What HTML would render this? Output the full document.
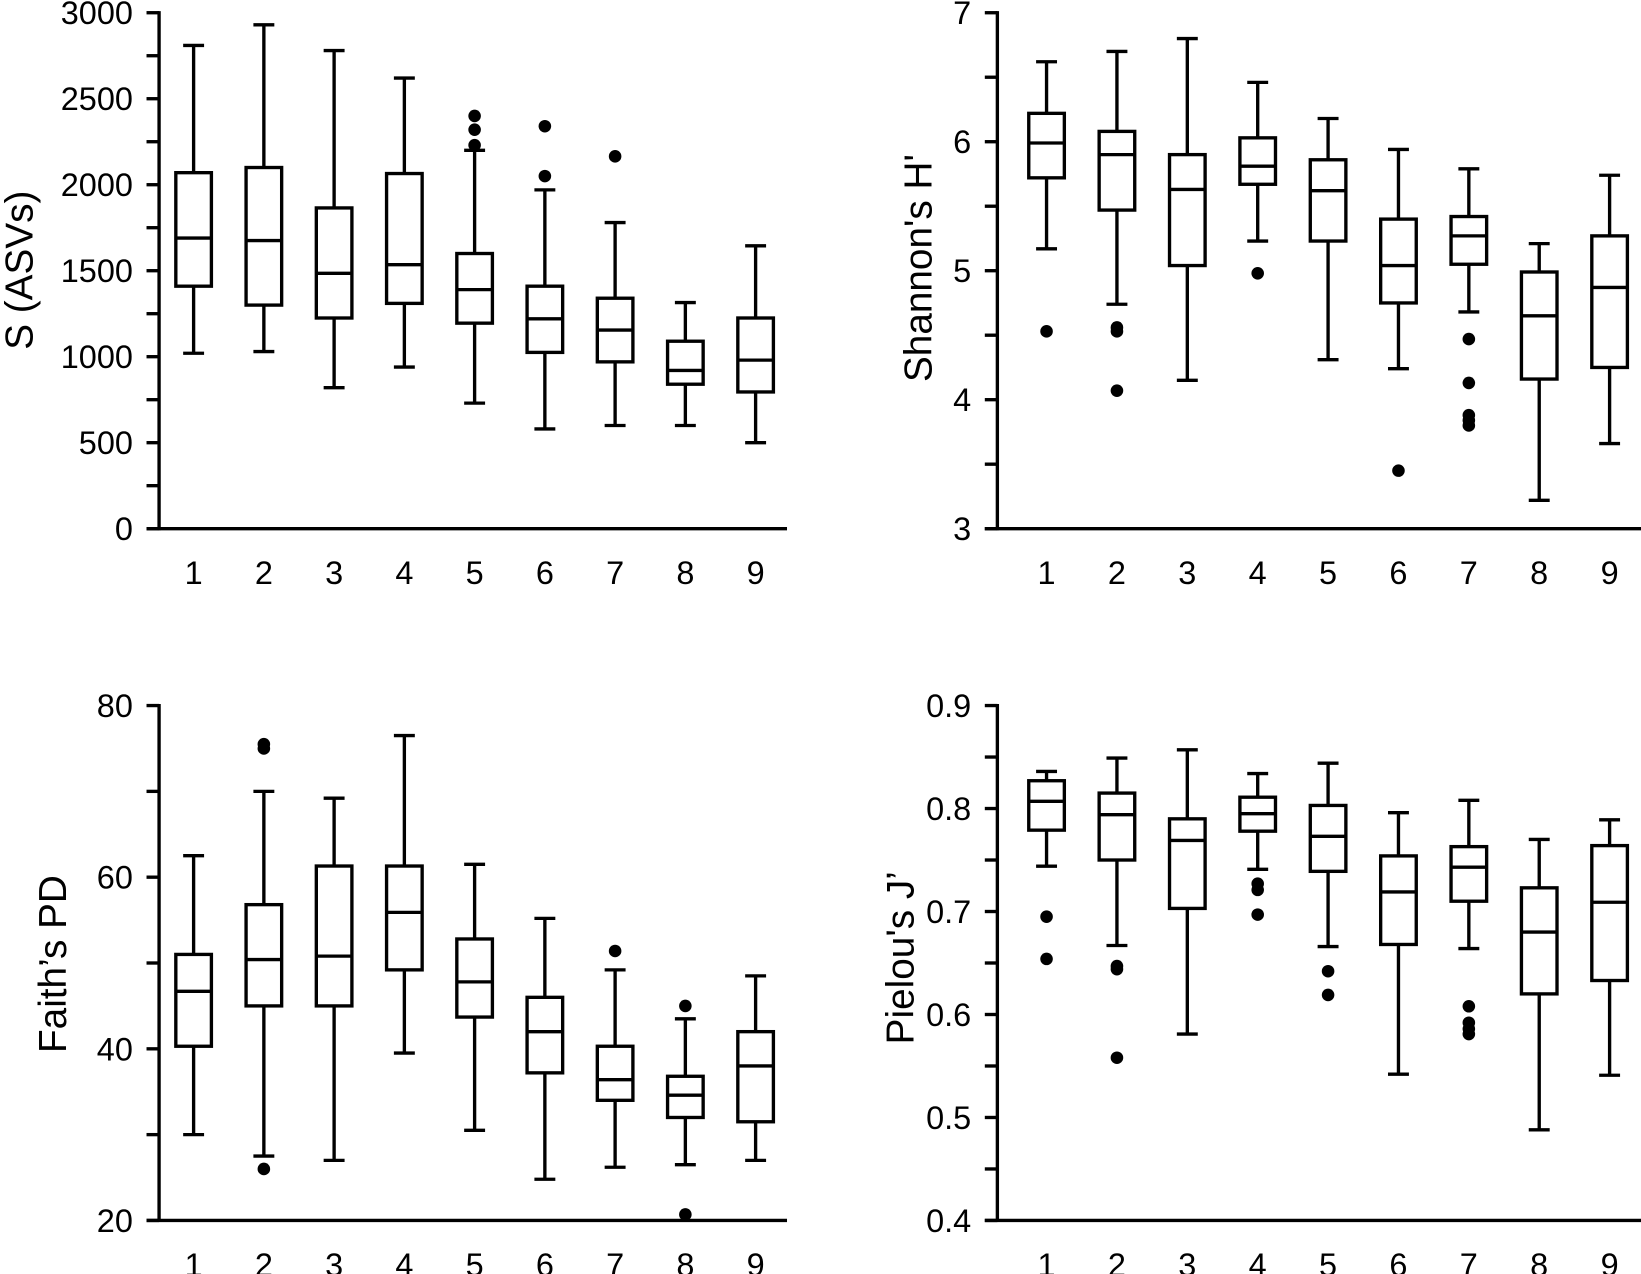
<!DOCTYPE html>
<html><head><meta charset="utf-8">
<style>
html,body{margin:0;padding:0;background:#fff;}
svg{display:block;}
text{font-family:"Liberation Sans",Arial,sans-serif;fill:#000;}
</style></head>
<body>
<svg id="chart" width="1641" height="1274" viewBox="0 0 1568 1217" xmlns="http://www.w3.org/2000/svg"></svg>
<script>
const categories = ["1","2","3","4","5","6","7","8","9"];

const richnessStats = [
 [1020,1410,1690,2070,2810],[1030,1300,1675,2100,2930],[820,1225,1485,1865,2780],
 [940,1310,1535,2065,2620],[730,1195,1390,1600,2200],[580,1025,1220,1410,1970],
 [600,970,1155,1340,1780],[600,840,920,1090,1315],[500,795,980,1225,1645]];
const richnessOutliers = [[],[],[],[],[2230,2320,2400],[2050,2340],[2165],[],[]];
const richnessTicks = [0,500,1000,1500,2000,2500,3000];

const shannonStats = [
 [5.17,5.72,5.99,6.22,6.62],[4.74,5.47,5.90,6.08,6.70],[4.15,5.04,5.63,5.90,6.80],
 [5.23,5.67,5.81,6.03,6.46],[4.31,5.23,5.62,5.86,6.18],[4.24,4.75,5.04,5.40,5.94],
 [4.68,5.05,5.27,5.42,5.79],[3.22,4.16,4.65,4.99,5.21],[3.66,4.25,4.87,5.27,5.74]];
const shannonOutliers = [[4.53],[4.56,4.53,4.07],[],[4.98],[],[3.45],[4.47,4.13,3.88,3.84,3.80],[],[]];
const shannonTicks = [3,4,5,6,7];

const faithStats = [
 [30,40.3,46.7,51,62.5],[27.5,45,50.4,56.8,70],[27,45,50.8,61.3,69.2],
 [39.5,49.2,55.9,61.3,76.5],[30.5,43.7,47.8,52.8,61.5],[24.8,37.2,42,46,55.2],
 [26.2,34,36.4,40.3,49.2],[26.5,32,34.6,36.8,43.5],[27,31.5,38,42,48.5]];
const faithOutliers = [[],[75.5,75,26],[],[],[],[],[51.4],[45,20.7],[]];
const faithTicks = [20,40,60,80];

const pielouStats = [
 [0.744,0.779,0.807,0.827,0.836],[0.667,0.750,0.794,0.815,0.849],[0.581,0.703,0.769,0.790,0.857],
 [0.741,0.778,0.795,0.811,0.834],[0.666,0.739,0.773,0.803,0.844],[0.542,0.668,0.719,0.754,0.796],
 [0.664,0.710,0.743,0.763,0.808],[0.488,0.620,0.680,0.723,0.770],[0.541,0.633,0.709,0.764,0.789]];
const pielouOutliers = [[0.695,0.654],[0.647,0.644,0.558],[],[0.727,0.721,0.697],[0.642,0.619],[],[0.608,0.592,0.586,0.581],[],[]];
const pielouTicks = ["0.4","0.5","0.6","0.7","0.8","0.9"];

const NS="http://www.w3.org/2000/svg";
const svg=document.getElementById('chart');
function mk(tag,attrs,parent){const e=document.createElementNS(NS,tag);for(const k in attrs)e.setAttribute(k,attrs[k]);(parent||svg).appendChild(e);return e;}

function panel(cfg){
  const g=mk('g',{});
  
  
  const ticks=cfg.ticks.map(Number);
  const ymin=ticks[0], ymax=ticks[ticks.length-1];
  const y=v=>cfg.y0+(v-ymin)/(ymax-ymin)*(cfg.y1-cfg.y0);
  const x=i=>cfg.xFirst+i*(cfg.xLast-cfg.xFirst)/(categories.length-1);
  const sw=3.2;
  const ya=mk('line',{x1:cfg.ax,y1:cfg.y1-1.5,x2:cfg.ax,y2:cfg.y0+1.5,stroke:'#000','stroke-width':sw},g);
  
  
  const xa=mk('line',{x1:cfg.ax-12,y1:cfg.y0,x2:cfg.axEnd,y2:cfg.y0,stroke:'#000','stroke-width':sw},g);
  
  
  for(let k=0;k<ticks.length;k++){
    const v=ticks[k];
    const t=mk('line',{x1:cfg.ax-12,y1:y(v),x2:cfg.ax,y2:y(v),stroke:'#000','stroke-width':sw},g);
    
    
    const lb=mk('text',{x:cfg.ax-25,y:y(v)+11,'text-anchor':'end','font-size':31},g);
    lb.textContent=cfg.ticks[k];
    
    
    if(k<ticks.length-1){
      const mv=(v+ticks[k+1])/2;
      const mt=mk('line',{x1:cfg.ax-12,y1:y(mv),x2:cfg.ax,y2:y(mv),stroke:'#000','stroke-width':sw},g);
      
      
    }
  }
  const tt=mk('text',{x:0,y:0,'text-anchor':'middle','font-size':37,transform:`translate(${cfg.tx},${cfg.ty}) rotate(-90)`},g);
  tt.textContent=cfg.title;
  
  
  categories.forEach((c,i)=>{
    const cx=x(i);
    const lb=mk('text',{x:cx,y:cfg.y0+53,'text-anchor':'middle','font-size':31},g);
    lb.textContent=c;
    
    
    const s=cfg.stats[i];
    const bg=mk('g',{},g);
    
    
    mk('line',{x1:cx,y1:y(s[0]),x2:cx,y2:y(s[1]),stroke:'#000','stroke-width':sw},bg);
    mk('line',{x1:cx,y1:y(s[3]),x2:cx,y2:y(s[4]),stroke:'#000','stroke-width':sw},bg);
    mk('line',{x1:cx-10,y1:y(s[0]),x2:cx+10,y2:y(s[0]),stroke:'#000','stroke-width':sw},bg);
    mk('line',{x1:cx-10,y1:y(s[4]),x2:cx+10,y2:y(s[4]),stroke:'#000','stroke-width':sw},bg);
    const r=mk('rect',{x:cx-17,y:y(s[3]),width:34,height:y(s[1])-y(s[3]),fill:'#fff',stroke:'#000','stroke-width':sw},bg);
    
    
    mk('line',{x1:cx-17,y1:y(s[2]),x2:cx+17,y2:y(s[2]),stroke:'#000','stroke-width':sw},bg);
    cfg.outliers[i].forEach(o=>{
      const d=mk('circle',{cx:cx,cy:y(o),r:6,fill:'#000'},bg);
      
      
    });
  });
}

panel({name:'richness-panel',title:'S (ASVs)',ticks:richnessTicks,stats:richnessStats,outliers:richnessOutliers,
  ax:152,axEnd:752,y0:505,y1:12,xFirst:185,xLast:722,tx:31,ty:258});
panel({name:'shannon-panel',title:"Shannon's H'",ticks:shannonTicks,stats:shannonStats,outliers:shannonOutliers,
  ax:953,axEnd:1568,y0:505,y1:12,xFirst:1000,xLast:1538,tx:890,ty:256});
panel({name:'faith-panel',title:'Faith’s PD',ticks:faithTicks,stats:faithStats,outliers:faithOutliers,
  ax:152,axEnd:752,y0:1166,y1:674,xFirst:185,xLast:722,tx:63,ty:921});
panel({name:'pielou-panel',title:'Pielou\'s J’',ticks:pielouTicks,stats:pielouStats,outliers:pielouOutliers,
  ax:953,axEnd:1568,y0:1166,y1:674,xFirst:1000,xLast:1538,tx:873,ty:915});
</script>
</body></html>
